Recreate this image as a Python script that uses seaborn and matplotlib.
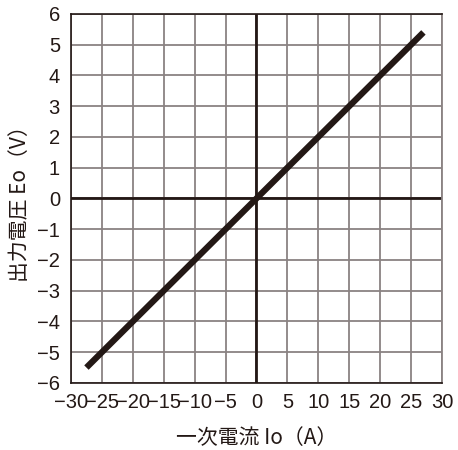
import matplotlib
matplotlib.use("Agg")
import matplotlib.pyplot as plt
import seaborn as sns
import pandas as pd

# primary current (A) vs output voltage (V)
current_a = [-27.5, 27.0]
voltage_v = [-5.5, 5.4]

x_ticks = list(range(-30, 31, 5))
y_ticks = list(range(-6, 7, 1))

df = pd.DataFrame({"Io": current_a, "Eo": voltage_v})

sns.set_theme(style="white")
plt.rcParams['font.family'] = ['Liberation Sans', 'Noto Sans CJK JP', 'DejaVu Sans']
plt.rcParams['axes.unicode_minus'] = True

fig = plt.figure(figsize=(4.58, 4.5), dpi=100)
ax = fig.add_axes([0.155, 0.149, 0.81, 0.82])

grid_col = '#8a8282'
ink = '#231815'

ax.set_xlim(-30, 30)
ax.set_ylim(-6, 6)
ax.set_xticks(x_ticks)
ax.set_yticks(y_ticks)
ax.grid(True, color=grid_col, linewidth=1.3)
ax.set_axisbelow(True)

# zero axes
ax.axhline(0, color=ink, linewidth=2.0, zorder=2)
ax.axvline(0, color=ink, linewidth=2.0, zorder=2)

sns.lineplot(data=df, x="Io", y="Eo", ax=ax, color=ink, linewidth=4.5,
             solid_capstyle='butt', zorder=3)

for side in ['top', 'left', 'bottom']:
    ax.spines[side].set_color(ink)
    ax.spines[side].set_linewidth(1.2)
ax.spines['right'].set_color(grid_col)
ax.spines['right'].set_linewidth(1.3)

ax.tick_params(axis='both', length=0, labelsize=14.5, colors=ink)
ax.tick_params(axis='x', pad=7)
ax.tick_params(axis='y', pad=8)

label_font = ['Noto Sans CJK JP', 'DejaVu Sans']
ax.set_xlabel("一次電流 Io（A）", fontsize=15, color=ink, labelpad=11, family=label_font)
ax.set_ylabel("出力電圧 Eo（V）", fontsize=15, color=ink, labelpad=4, family=label_font)

fig.savefig("out.png", dpi=100)
